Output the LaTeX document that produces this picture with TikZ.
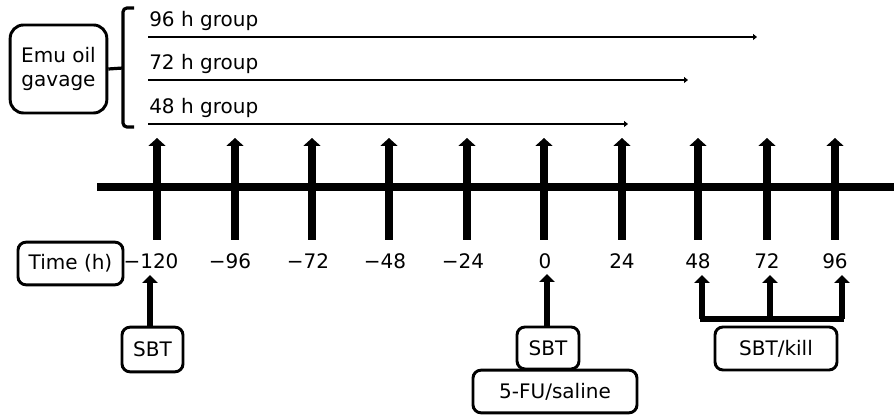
\documentclass[tikz,border=0pt]{standalone}
\usepackage{fontspec}
\setmainfont{DejaVu Sans}
\usetikzlibrary{arrows.meta}
\begin{document}
\begin{tikzpicture}[x=0.75pt,y=-0.75pt,
  font=\fontsize{15}{17.5}\selectfont,
  box/.style={draw, line width=2.2pt, rounded corners=6pt, inner sep=0pt, align=center},
  tickarrow/.style={line width=6pt, -{Triangle[width=12.75pt,length=6pt]}},
  smallarrow/.style={line width=5pt, -{Triangle[width=11.5pt,length=6pt]}},
  grouparrow/.style={line width=1.7pt, -{Triangle[width=4.5pt,length=3pt]}},
  lbl/.style={inner sep=0pt, anchor=center},
  grp/.style={inner sep=0pt, anchor=base west}]
\useasboundingbox (0,0) rectangle (894,416);

% timeline
\coordinate (tl0) at (97,187);
\coordinate (tl1) at (894,187);
\draw[line width=6pt] (tl0) -- (tl1);

% ticks
\foreach \n/\x/\t/\dx in {a/157/{−120}/-6, b/235/{−96}/-5, c/312/{−72}/-4, d/389/{−48}/-4, e/467/{−24}/-4, f/544/{0}/1, g/622/{24}/0, h/698/{48}/0, i/767/{72}/0, j/835/{96}/0}{
  \coordinate (bot\n) at (\x,240);
  \coordinate (top\n) at (\x,138);
  \draw[tickarrow] (bot\n) -- (top\n);
  \node[lbl] (lab\n) at (\x+\dx,261) {\t};
}

% emu oil box and brace
\node[box, minimum width=72.5pt, minimum height=66pt, rounded corners=10pt] (emu) at (58.5,69) {Emu oil\\gavage};
\coordinate (brtop) at (134,8);
\coordinate (brbot) at (134,127);
\coordinate (brmid) at (123,68);
\draw[line width=2.4pt, rounded corners=3pt] (brtop) -- (123,8) -- (123,127) -- (brbot);
\draw[line width=2.4pt] (emu.east) -- (brmid);

% groups
\coordinate (g96s) at (148,37); \coordinate (g96e) at (757,37);
\coordinate (g72s) at (148,80); \coordinate (g72e) at (688,80);
\coordinate (g48s) at (148,124); \coordinate (g48e) at (628,124);
\draw[grouparrow] (g96s) -- (g96e);
\draw[grouparrow] (g72s) -- (g72e);
\draw[grouparrow] (g48s) -- (g48e);
\node[grp] (t96) at (149,27) {96 h group};
\node[grp] (t72) at (149,70) {72 h group};
\node[grp] (t48) at (149,114) {48 h group};

% time box
\node[box, minimum width=78.75pt, minimum height=32pt] (time) at (70.5,263.5) {Time (h)};

% bottom boxes
\node[box, minimum width=45.75pt, minimum height=33.5pt] (sbt1) at (152.5,349.5) {SBT};
\node[box, minimum width=123pt, minimum height=32pt] (fu) at (555,391.5) {5-FU/saline};
\node[box, minimum width=46.5pt, minimum height=31.5pt, fill=white] (sbt2) at (548,348) {SBT};
\node[box, minimum width=91.5pt, minimum height=32.25pt] (kill) at (776,348.5) {SBT/kill};

% bottom arrows
\draw[smallarrow] (sbt1.north -| 150,0) -- (150,275);
\draw[smallarrow] (sbt2.north -| 547,0) -- (547,274);

\coordinate (k1) at (702,319);
\coordinate (k2) at (770,319);
\coordinate (k3) at (842,319);
\draw[line width=4.5pt] ([xshift=-1.7pt]k1) -- ([xshift=1.7pt]k3);
\draw[smallarrow] (k1) -- (702,275);
\draw[smallarrow] (k2) -- (770,275);
\draw[smallarrow] (k3) -- (842,275);
\end{tikzpicture}
\end{document}
